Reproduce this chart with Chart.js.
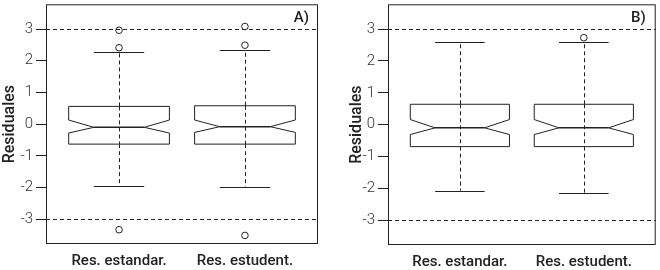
<!DOCTYPE html>
<html>
<head>
<meta charset="utf-8">
<script src="https://cdn.jsdelivr.net/npm/chart.js@4"></script>
<style>
  body { margin: 0; background: #fff; }
  .panel { position: absolute; top: 0; width: 330px; height: 270px; }
</style>
</head>
<body>
<div class="panel" style="left:0"><canvas id="chartA" width="330" height="270"></canvas></div>
<div class="panel" style="left:330px"><canvas id="chartB" width="330" height="270"></canvas></div>
<script>
const categories = ['Res. estandar.', 'Res. estudent.'];
const yTicks = [-3, -2, -1, 0, 1, 2, 3];
const refLines = [-3, 3];

// panel A
const lowA = [-1.94, -1.97];
const q1A = [-0.63, -0.63];
const notchLoA = [-0.28, -0.26];
const medA = [-0.10, -0.08];
const notchHiA = [0.13, 0.13];
const q3A = [0.56, 0.58];
const highA = [2.28, 2.34];
const outA = [[-3.33, 2.41, 2.96], [-3.51, 2.49, 3.08]];

// panel B
const lowB = [-2.07, -2.16];
const q1B = [-0.69, -0.69];
const notchLoB = [-0.31, -0.31];
const medB = [-0.10, -0.10];
const notchHiB = [0.16, 0.16];
const q3B = [0.64, 0.64];
const highB = [2.61, 2.59];
const outB = [[], [2.73]];

const ink = '#222';

function outlierPoints(out) {
    const pts = [];
    out.forEach((vals, i) => vals.forEach(v => pts.push({ x: i + 1, y: v })));
    return pts;
}

const boxPlugin = {
    id: 'boxes',
    beforeDatasetsDraw(chart, args, opts) {
        const { ctx, chartArea: a, scales: { x, y } } = chart;
        const s = opts.stats;
        ctx.save();
        ctx.strokeStyle = ink;
        ctx.lineWidth = 1;

        // reference lines
        ctx.setLineDash([4, 3]);
        refLines.forEach(v => {
            const py = Math.round(y.getPixelForValue(v)) + 0.5;
            ctx.beginPath();
            ctx.moveTo(a.left, py);
            ctx.lineTo(a.right, py);
            ctx.stroke();
        });

        categories.forEach((c, i) => {
            const cx = Math.round(x.getPixelForValue(i + 1)) + 0.5;
            const xl = x.getPixelForValue(i + 1 - 0.4);
            const xr = x.getPixelForValue(i + 1 + 0.4);
            const nl = x.getPixelForValue(i + 1 - 0.2);
            const nr = x.getPixelForValue(i + 1 + 0.2);
            const py = v => y.getPixelForValue(v);

            // whiskers
            ctx.setLineDash([4, 3]);
            ctx.beginPath();
            ctx.moveTo(cx, py(s.q3[i])); ctx.lineTo(cx, py(s.high[i]));
            ctx.moveTo(cx, py(s.q1[i])); ctx.lineTo(cx, py(s.low[i]));
            ctx.stroke();

            ctx.setLineDash([]);
            ctx.beginPath();
            [s.high[i], s.low[i]].forEach(v => {
                const yy = Math.round(py(v)) + 0.5;
                ctx.moveTo(nl, yy); ctx.lineTo(nr, yy);
            });
            ctx.stroke();

            // notched box
            ctx.fillStyle = '#fff';
            ctx.beginPath();
            ctx.moveTo(xl, py(s.q1[i]));
            ctx.lineTo(xl, py(s.notchLo[i]));
            ctx.lineTo(nl, py(s.med[i]));
            ctx.lineTo(xl, py(s.notchHi[i]));
            ctx.lineTo(xl, py(s.q3[i]));
            ctx.lineTo(xr, py(s.q3[i]));
            ctx.lineTo(xr, py(s.notchHi[i]));
            ctx.lineTo(nr, py(s.med[i]));
            ctx.lineTo(xr, py(s.notchLo[i]));
            ctx.lineTo(xr, py(s.q1[i]));
            ctx.closePath();
            ctx.fill();
            ctx.stroke();

            // whisker line through box (dashed, as in R)
            ctx.setLineDash([4, 3]);
            ctx.beginPath();
            ctx.moveTo(cx, py(s.q3[i])); ctx.lineTo(cx, py(s.q1[i]));
            ctx.stroke();
            ctx.setLineDash([]);

            // median
            ctx.lineWidth = 1.5;
            ctx.beginPath();
            ctx.moveTo(nl, py(s.med[i])); ctx.lineTo(nr, py(s.med[i]));
            ctx.stroke();
            ctx.lineWidth = 1;
        });
        ctx.restore();
    },
    afterDraw(chart, args, opts) {
        const { ctx, chartArea: a } = chart;
        ctx.save();
        ctx.strokeStyle = ink;
        ctx.lineWidth = 1;
        ctx.strokeRect(a.left + 0.5, a.top + 0.5, a.right - a.left - 1, a.bottom - a.top - 1);
        ctx.fillStyle = ink;
        ctx.font = '500 15px Roboto';
        ctx.textAlign = 'right';
        ctx.textBaseline = 'alphabetic';
        ctx.fillText(opts.label, a.right - opts.labelInset, a.top + 18);
        ctx.restore();
    }
};

function makeChart(id, stats, out, label, yWidth, padRight, xHeight, titlePad, labelInset) {
    return new Chart(document.getElementById(id), {
        type: 'scatter',
        data: {
            datasets: [{
                data: outlierPoints(out),
                pointRadius: 3.3,
                pointHoverRadius: 3.3,
                borderColor: ink,
                borderWidth: 1,
                backgroundColor: 'rgba(0,0,0,0)'
            }]
        },
        plugins: [boxPlugin],
        options: {
            responsive: false,
            animation: false,
            events: [],
            layout: { padding: { left: 0, top: 0, right: padRight, bottom: 0 } },
            plugins: {
                legend: { display: false },
                tooltip: { enabled: false },
                boxes: { stats: stats, label: label, labelInset: labelInset }
            },
            scales: {
                x: {
                    type: 'linear',
                    min: 0.42,
                    max: 2.58,
                    afterBuildTicks: s => { s.ticks = categories.map((c, i) => ({ value: i + 1 })); },
                    afterFit: s => { s.height = xHeight; s.paddingLeft = 0; s.paddingRight = 0; },
                    grid: { display: false, drawTicks: false },
                    border: { display: false },
                    ticks: {
                        padding: 8,
                        color: ink,
                        font: { family: 'Roboto', size: 15, weight: '500' },
                        callback: v => categories[v - 1]
                    }
                },
                y: {
                    min: -3.78,
                    max: 3.78,
                    afterBuildTicks: s => { s.ticks = yTicks.map(v => ({ value: v })); },
                    afterFit: s => { s.width = yWidth; s.paddingTop = 0; s.paddingBottom = 0; },
                    grid: { drawOnChartArea: false, drawTicks: true, tickLength: 10, color: ink },
                    border: { display: false },
                    ticks: {
                        padding: 3,
                        color: '#333',
                        font: { family: 'Roboto', size: 15, weight: '300' }
                    },
                    title: {
                        display: true,
                        text: 'Residuales',
                        color: ink,
                        padding: { top: titlePad, bottom: 0 },
                        font: { family: 'Roboto', size: 16, weight: '500' }
                    }
                }
            }
        }
    });
}

makeChart('chartA',
    { low: lowA, q1: q1A, notchLo: notchLoA, med: medA, notchHi: notchHiA, q3: q3A, high: highA },
    outA, 'A)', 46, 12, 26, 0, 9);
makeChart('chartB',
    { low: lowB, q1: q1B, notchLo: notchLoB, med: medB, notchHi: notchHiB, q3: q3B, high: highB },
    outB, 'B)', 58, 0, 25, 17, 10);
</script>
</body>
</html>
